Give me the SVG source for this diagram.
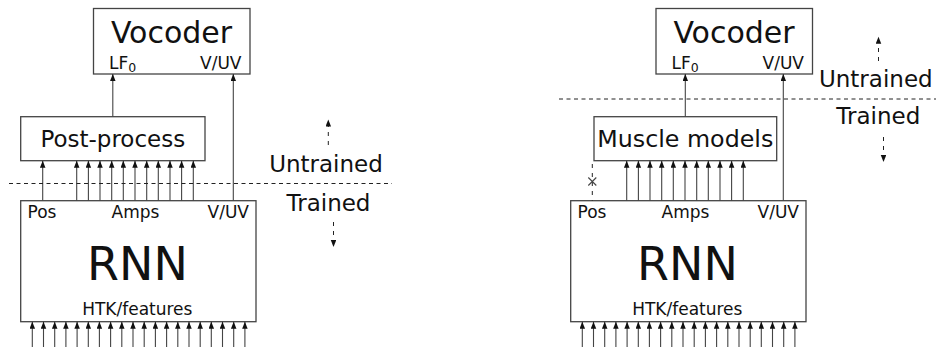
<svg xmlns="http://www.w3.org/2000/svg" width="936" height="353" viewBox="0 0 936 353">
  <style>
    text { font-family: "DejaVu Sans", "Liberation Sans", sans-serif; fill: #111; }
    .box { fill: #fff; stroke: #444; stroke-width: 1.3; }
    .wire { stroke: #444; stroke-width: 1.1; fill: none; }
    .sep { stroke: #222; stroke-width: 1; stroke-dasharray: 4 3.5; fill: none; }
    .dir { stroke: #222; stroke-width: 1; stroke-dasharray: 4 5; fill: none; }
    .big { font-size: 30px; text-anchor: middle; }
    .rnn { font-size: 46px; text-anchor: middle; }
    .mid { font-size: 23px; text-anchor: middle; }
    .port { font-size: 17px; }
    .sub { font-size: 12.5px; }
  </style>
  <defs>
    <marker id="head" markerUnits="userSpaceOnUse" markerWidth="8" markerHeight="6" refX="7" refY="2.75" orient="auto">
      <path d="M0,0 L7,2.75 L0,5.5 z" fill="#111"/>
    </marker>
  </defs>

  <!-- ===== Left system: RNN + post-processing ===== -->
  <g id="vocoder-left">
    <rect class="box" x="93.5" y="8.5" width="156.5" height="65.5"/>
    <text class="big" x="171.5" y="43">Vocoder</text>
    <text class="port" x="109" y="69">LF<tspan class="sub" dy="2.5">0</tspan></text>
    <text class="port" x="241.5" y="69" text-anchor="end">V/UV</text>
  </g>
  <g id="postprocess">
    <rect class="box" x="20.7" y="116.7" width="184.3" height="44"/>
    <text class="mid" x="112.8" y="146.7">Post-process</text>
  </g>
  <g id="rnn-left">
    <rect class="box" x="20.7" y="200.7" width="235.3" height="121"/>
    <text class="port" x="27.5" y="218.3">Pos</text>
    <text class="port" x="135.5" y="218.3" text-anchor="middle">Amps</text>
    <text class="port" x="249" y="218.3" text-anchor="end">V/UV</text>
    <text class="rnn" x="137.5" y="280">RNN</text>
    <text class="port" x="137.3" y="315" text-anchor="middle">HTK/features</text>
  </g>
  <g id="labels-left">
    <text class="mid" x="326" y="171.7">Untrained</text>
    <text class="mid" x="328.5" y="210.7">Trained</text>
  </g>

  <g id="connectors-left">
    <!-- post-process to vocoder -->
    <line class="wire" x1="112.8" y1="116.7" x2="112.8" y2="74" marker-end="url(#head)"/>
    <!-- voicing straight from RNN -->
    <line class="wire" x1="233.3" y1="200.7" x2="233.3" y2="74" marker-end="url(#head)"/>
    <!-- position -->
    <line class="wire" x1="42.7" y1="200.7" x2="42.7" y2="160.7" marker-end="url(#head)"/>
    <!-- amplitudes -->
    <g marker-end="url(#head)">
      <line class="wire" x1="76.7" y1="200.7" x2="76.7" y2="160.7"/>
      <line class="wire" x1="88.4" y1="200.7" x2="88.4" y2="160.7"/>
      <line class="wire" x1="100" y1="200.7" x2="100" y2="160.7"/>
      <line class="wire" x1="111.7" y1="200.7" x2="111.7" y2="160.7"/>
      <line class="wire" x1="123.3" y1="200.7" x2="123.3" y2="160.7"/>
      <line class="wire" x1="135" y1="200.7" x2="135" y2="160.7"/>
      <line class="wire" x1="146.7" y1="200.7" x2="146.7" y2="160.7"/>
      <line class="wire" x1="158.3" y1="200.7" x2="158.3" y2="160.7"/>
      <line class="wire" x1="170" y1="200.7" x2="170" y2="160.7"/>
      <line class="wire" x1="181.6" y1="200.7" x2="181.6" y2="160.7"/>
      <line class="wire" x1="193.3" y1="200.7" x2="193.3" y2="160.7"/>
    </g>
    <!-- input features -->
    <g marker-end="url(#head)">
      <line class="wire" x1="32.3" y1="347" x2="32.3" y2="321.7"/>
      <line class="wire" x1="43.5" y1="347" x2="43.5" y2="321.7"/>
      <line class="wire" x1="54.7" y1="347" x2="54.7" y2="321.7"/>
      <line class="wire" x1="65.9" y1="347" x2="65.9" y2="321.7"/>
      <line class="wire" x1="77.1" y1="347" x2="77.1" y2="321.7"/>
      <line class="wire" x1="88.3" y1="347" x2="88.3" y2="321.7"/>
      <line class="wire" x1="99.4" y1="347" x2="99.4" y2="321.7"/>
      <line class="wire" x1="110.6" y1="347" x2="110.6" y2="321.7"/>
      <line class="wire" x1="121.8" y1="347" x2="121.8" y2="321.7"/>
      <line class="wire" x1="133" y1="347" x2="133" y2="321.7"/>
      <line class="wire" x1="144.2" y1="347" x2="144.2" y2="321.7"/>
      <line class="wire" x1="155.4" y1="347" x2="155.4" y2="321.7"/>
      <line class="wire" x1="166.6" y1="347" x2="166.6" y2="321.7"/>
      <line class="wire" x1="177.8" y1="347" x2="177.8" y2="321.7"/>
      <line class="wire" x1="189" y1="347" x2="189" y2="321.7"/>
      <line class="wire" x1="200.2" y1="347" x2="200.2" y2="321.7"/>
      <line class="wire" x1="211.3" y1="347" x2="211.3" y2="321.7"/>
      <line class="wire" x1="222.5" y1="347" x2="222.5" y2="321.7"/>
      <line class="wire" x1="233.7" y1="347" x2="233.7" y2="321.7"/>
      <line class="wire" x1="244.9" y1="347" x2="244.9" y2="321.7"/>
    </g>
    <!-- trained / untrained boundary -->
    <line class="sep" x1="9" y1="183.5" x2="392" y2="183.5"/>
    <line class="dir" x1="328.3" y1="145" x2="328.3" y2="119.5" marker-end="url(#head)"/>
    <line class="dir" x1="333.5" y1="222" x2="333.5" y2="247" marker-end="url(#head)"/>
  </g>

  <!-- ===== Right system: RNN + muscle models ===== -->
  <g id="vocoder-right">
    <rect class="box" x="656" y="8.5" width="156.5" height="65.5"/>
    <text class="big" x="734" y="43">Vocoder</text>
    <text class="port" x="671.5" y="69">LF<tspan class="sub" dy="2.5">0</tspan></text>
    <text class="port" x="804" y="69" text-anchor="end">V/UV</text>
  </g>
  <g id="muscle-models">
    <rect class="box" x="594" y="116.7" width="182.7" height="44"/>
    <text class="mid" x="685.3" y="146.7" font-size="22" textLength="176" lengthAdjust="spacingAndGlyphs">Muscle models</text>
  </g>
  <g id="rnn-right">
    <rect class="box" x="570.7" y="200.7" width="235.3" height="121"/>
    <text class="port" x="577.5" y="218.3">Pos</text>
    <text class="port" x="685.5" y="218.3" text-anchor="middle">Amps</text>
    <text class="port" x="799" y="218.3" text-anchor="end">V/UV</text>
    <text class="rnn" x="687.5" y="280">RNN</text>
    <text class="port" x="687.3" y="315" text-anchor="middle">HTK/features</text>
  </g>
  <g id="labels-right">
    <text class="mid" x="875.8" y="87.3">Untrained</text>
    <text class="mid" x="878.3" y="124">Trained</text>
  </g>

  <g id="connectors-right">
    <line class="wire" x1="685.3" y1="116.7" x2="685.3" y2="74" marker-end="url(#head)"/>
    <line class="wire" x1="783.3" y1="200.7" x2="783.3" y2="74" marker-end="url(#head)"/>
    <!-- unused position output -->
    <line class="dir" x1="592.3" y1="164" x2="592.3" y2="200.7" stroke-dasharray="5 3"/>
    <path class="wire" d="M588.3,177.5 L596.3,185.5 M596.3,177.5 L588.3,185.5" stroke="#222"/>
    <g marker-end="url(#head)">
      <line class="wire" x1="626.7" y1="200.7" x2="626.7" y2="160.7"/>
      <line class="wire" x1="638.4" y1="200.7" x2="638.4" y2="160.7"/>
      <line class="wire" x1="650" y1="200.7" x2="650" y2="160.7"/>
      <line class="wire" x1="661.7" y1="200.7" x2="661.7" y2="160.7"/>
      <line class="wire" x1="673.3" y1="200.7" x2="673.3" y2="160.7"/>
      <line class="wire" x1="685" y1="200.7" x2="685" y2="160.7"/>
      <line class="wire" x1="696.7" y1="200.7" x2="696.7" y2="160.7"/>
      <line class="wire" x1="708.3" y1="200.7" x2="708.3" y2="160.7"/>
      <line class="wire" x1="720" y1="200.7" x2="720" y2="160.7"/>
      <line class="wire" x1="731.6" y1="200.7" x2="731.6" y2="160.7"/>
      <line class="wire" x1="743.3" y1="200.7" x2="743.3" y2="160.7"/>
    </g>
    <g marker-end="url(#head)">
      <line class="wire" x1="582.3" y1="347" x2="582.3" y2="321.7"/>
      <line class="wire" x1="593.5" y1="347" x2="593.5" y2="321.7"/>
      <line class="wire" x1="604.7" y1="347" x2="604.7" y2="321.7"/>
      <line class="wire" x1="615.9" y1="347" x2="615.9" y2="321.7"/>
      <line class="wire" x1="627.1" y1="347" x2="627.1" y2="321.7"/>
      <line class="wire" x1="638.3" y1="347" x2="638.3" y2="321.7"/>
      <line class="wire" x1="649.4" y1="347" x2="649.4" y2="321.7"/>
      <line class="wire" x1="660.6" y1="347" x2="660.6" y2="321.7"/>
      <line class="wire" x1="671.8" y1="347" x2="671.8" y2="321.7"/>
      <line class="wire" x1="683" y1="347" x2="683" y2="321.7"/>
      <line class="wire" x1="694.2" y1="347" x2="694.2" y2="321.7"/>
      <line class="wire" x1="705.4" y1="347" x2="705.4" y2="321.7"/>
      <line class="wire" x1="716.6" y1="347" x2="716.6" y2="321.7"/>
      <line class="wire" x1="727.8" y1="347" x2="727.8" y2="321.7"/>
      <line class="wire" x1="739" y1="347" x2="739" y2="321.7"/>
      <line class="wire" x1="750.2" y1="347" x2="750.2" y2="321.7"/>
      <line class="wire" x1="761.3" y1="347" x2="761.3" y2="321.7"/>
      <line class="wire" x1="772.5" y1="347" x2="772.5" y2="321.7"/>
      <line class="wire" x1="783.7" y1="347" x2="783.7" y2="321.7"/>
      <line class="wire" x1="794.9" y1="347" x2="794.9" y2="321.7"/>
    </g>
    <line class="sep" x1="559" y1="99" x2="936" y2="99"/>
    <line class="dir" x1="878.5" y1="61" x2="878.5" y2="36.7" marker-end="url(#head)"/>
    <line class="dir" x1="883.5" y1="137" x2="883.5" y2="162" marker-end="url(#head)"/>
  </g>
</svg>
